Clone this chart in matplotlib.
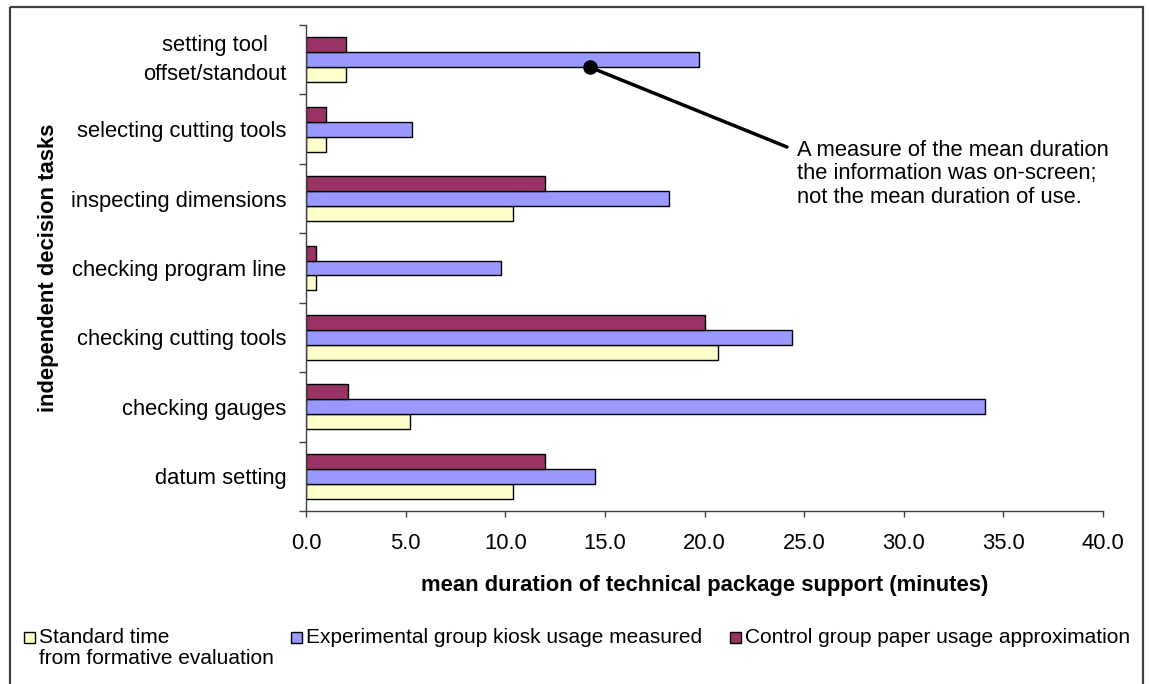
import numpy as np
import matplotlib
matplotlib.use("Agg")
import matplotlib.pyplot as plt
from matplotlib.patches import Rectangle
from matplotlib.transforms import Affine2D

plt.rcParams['font.family'] = ['Liberation Sans', 'DejaVu Sans']

# tasks, bottom to top
tasks = ["datum setting", "checking gauges", "checking cutting tools",
         "checking program line", "inspecting dimensions",
         "selecting cutting tools", "setting tool\noffset/standout"]

standard_time = [10.4, 5.2, 20.7, 0.5, 10.4, 1.0, 2.0]
kiosk_usage = [14.5, 34.1, 24.4, 9.8, 18.2, 5.3, 19.7]
paper_usage = [12.0, 2.1, 20.0, 0.5, 12.0, 1.0, 2.0]

series_names = ["Standard time\nfrom formative evaluation",
                "Experimental group kiosk usage measured",
                "Control group paper usage approximation"]
series_colors = ["#FFFFCC", "#9999FF", "#993366"]

x_ticks = np.arange(0, 41, 5)

W, H = 1150, 684
FS = 15.8

fig = plt.figure(figsize=(W / 100, H / 100), dpi=100)
# pixel coordinates measured from the top-left corner
pix = Affine2D().scale(1, -1).translate(0, H)

ax = fig.add_axes([306 / W, 1 - 511 / H, (1103 - 306) / W, (511 - 25) / H])

y = np.arange(len(tasks))
bh = 0.216
for offs, vals, col in zip([-bh, 0, bh], [standard_time, kiosk_usage, paper_usage],
                           series_colors):
    ax.barh(y + offs, vals, height=bh, color=col, edgecolor="black", linewidth=1.0)

ax.set_xlim(0, 40)
ax.set_ylim(-0.5, len(tasks) - 0.5)
ax.set_xticks(x_ticks)
ax.set_xticklabels([f"{v:.1f}" for v in x_ticks], fontsize=FS)
ax.set_yticks(np.arange(-0.5, len(tasks), 1.0))
ax.set_yticklabels([])
# two-line task names sit slightly higher in their slot
label_pos = np.array([p + (0.085 if "\n" in t else 0.0) for p, t in zip(y, tasks)])
ax.set_yticks(label_pos, minor=True)
ax.set_yticklabels(tasks, minor=True, fontsize=FS, multialignment="center",
                   linespacing=1.45)
ax.tick_params(axis="y", which="major", length=5, width=1, color="#404040")
ax.tick_params(axis="y", which="minor", length=0, pad=14)
ax.tick_params(axis="x", length=4.3, width=1, color="#404040", pad=11.5)

for side in ["top", "right"]:
    ax.spines[side].set_visible(False)
for side in ["left", "bottom"]:
    ax.spines[side].set_color("#404040")
    ax.spines[side].set_linewidth(1.0)

ax.set_xlabel("mean duration of technical package support (minutes)",
              fontsize=FS, fontweight="bold", labelpad=15)
ax.set_ylabel("independent decision tasks", fontsize=FS, fontweight="bold")
ax.yaxis.set_label_coords((59 - 306) / (1103 - 306), 0.5)

# callout on the kiosk bar of the top task
top = len(tasks) - 1
dot_x = 14.25
dot_y = top - bh / 2
ax.annotate("", xy=(dot_x, dot_y), xycoords="data", xytext=(787, 147),
            textcoords=pix,
            arrowprops=dict(arrowstyle="-", color="black", lw=2.5,
                            shrinkA=0, shrinkB=0))
ax.plot([dot_x], [dot_y], "o", color="black", markersize=9.5, clip_on=False)
fig.text(797, 140, "A measure of the mean duration\nthe information was on-screen;\n"
         "not the mean duration of use.", transform=pix, fontsize=FS,
         ha="left", va="top", linespacing=1.15)

# legend drawn along the bottom
leg_x = [24, 291, 730]
for lx, name, col in zip(leg_x, series_names, series_colors):
    fig.patches.append(Rectangle((lx, 632), 11, 11, transform=pix,
                                 facecolor=col, edgecolor="black", lw=1.0))
    fig.text(lx + 15, 628, name, transform=pix, fontsize=15.0, ha="left",
             va="top", linespacing=1.15)

# outer chart frame
fig.patches.append(Rectangle((10, 7), 1133, 720, transform=pix, fill=False,
                             edgecolor="#404040", lw=1.6, clip_on=False))

fig.savefig("out.png", dpi=100)
